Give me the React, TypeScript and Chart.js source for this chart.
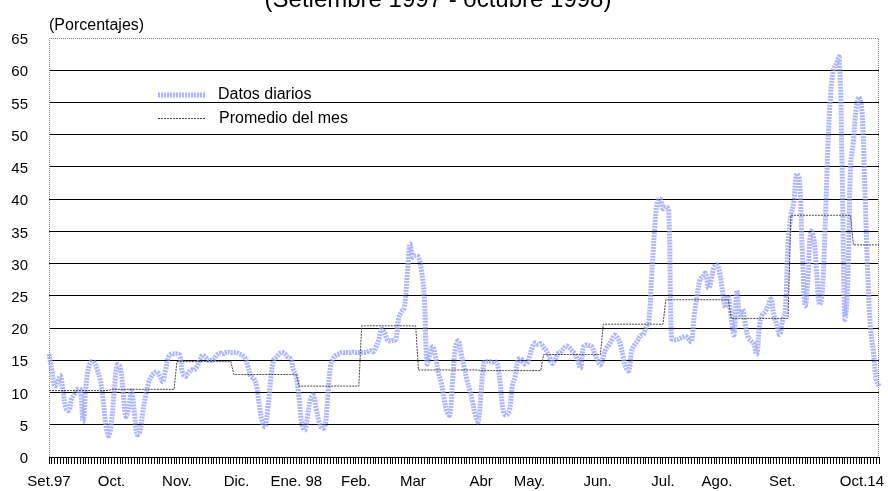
import React, { useEffect, useRef } from 'react';
import { Chart, registerables } from 'chart.js';

Chart.register(...registerables);

// Daily values (percent), business days per month
const sep97 = [16.0, 13.5, 11.0, 11.5, 12.6, 10.0, 7.5, 7.2, 9.0, 9.8, 10.5, 10.5, 5.5, 11.0, 14.0, 14.8, 14.6, 13.5, 12.0, 9.0, 5.0, 3.3];
const oct97 = [5.5, 10.5, 14.3, 14.0, 10.5, 6.3, 7.5, 10.3, 7.0, 3.5, 4.0, 7.0, 9.5, 11.5, 12.5, 13.0, 13.2, 12.5, 11.7, 13.5, 15.5, 16.0, 16.0];
const nov97 = [16.0, 15.8, 13.0, 12.5, 13.0, 13.5, 13.5, 14.0, 15.0, 15.8, 15.5, 15.0, 15.0, 15.2, 15.8, 16.1, 16.0, 16.2, 16.3, 16.2];
const dec97 = [16.2, 16.2, 16.0, 15.8, 15.3, 14.0, 12.5, 12.2, 11.0, 8.0, 5.5, 4.7, 7.5, 12.0, 15.0, 15.5, 16.0, 16.2, 16.0, 15.5, 15.2, 13.5, 12.5];
const jan98 = [9.0, 5.0, 4.2, 6.5, 9.0, 9.6, 7.5, 5.5, 4.5, 4.6, 9.0, 14.0, 15.3, 15.8, 16.0, 16.2, 16.2, 16.2, 16.2, 16.3, 16.2, 16.2];
const feb98 = [16.2, 16.2, 16.3, 16.5, 16.3, 17.0, 18.2, 19.8, 19.3, 18.2, 18.0, 18.1, 18.2, 21.5, 22.5, 23.2, 28.0, 33.0, 31.0, 31.2];
const mar98 = [31.0, 29.0, 25.0, 14.5, 16.0, 17.1, 15.5, 13.0, 11.5, 9.0, 7.0, 6.5, 12.0, 17.0, 18.0, 16.0, 14.0, 12.0, 10.4, 8.5, 6.5, 5.5];
const apr98 = [10.0, 14.5, 14.8, 14.8, 14.7, 14.8, 14.0, 10.0, 6.8, 6.5, 7.3, 11.0, 12.5, 15.0, 15.3, 14.5, 14.5, 15.5, 17.0, 17.7, 17.5, 17.6];
const may98 = [17.0, 16.5, 15.6, 14.5, 15.0, 16.0, 16.3, 16.8, 17.2, 17.0, 16.5, 16.0, 15.0, 13.8, 17.0, 17.4, 17.3, 17.1, 16.0, 15.0, 14.3];
const jun98 = [15.5, 16.8, 17.4, 18.2, 18.9, 18.5, 17.4, 15.5, 13.8, 13.4, 16.5, 17.4, 18.0, 18.8, 19.0, 20.0, 21.0, 28.0, 35.0, 39.5, 40.0, 38.5];
const jul98 = [38.8, 38.3, 18.4, 18.2, 18.2, 18.4, 18.6, 18.7, 18.3, 17.9, 22.0, 25.0, 27.5, 28.0, 28.5, 26.2, 27.5, 29.5, 29.8, 28.5, 25.5, 23.2, 25.0];
const aug98 = [21.6, 19.0, 25.8, 22.1, 22.9, 20.5, 18.5, 18.0, 17.5, 16.0, 20.5, 22.1, 22.6, 23.5, 24.5, 22.0, 20.6, 19.0, 21.0, 22.6, 33.0];
const sep98 = [37.5, 39.5, 43.9, 43.0, 32.0, 23.5, 28.0, 35.0, 34.0, 29.0, 23.7, 25.5, 35.0, 48.0, 56.5, 60.0, 61.0, 62.0, 45.0, 21.6, 27.0, 45.0];
const oct98 = [49.0, 54.2, 55.8, 53.7, 42.0, 29.0, 20.0, 16.5, 12.0, 11.0];

const dailyByMonth = [sep97, oct97, nov97, dec97, jan98, feb98, mar98, apr98, may98, jun98, jul98, aug98, sep98, oct98];

// Monthly averages
const monthlyAvg = [10.3, 10.5, 14.8, 12.8, 11.0, 20.35, 13.5, 13.4, 15.9, 20.6, 24.4, 21.5, 37.5, 32.9];

// X tick labels and the day (index) they are attached to
const xTickLabels = ['Set.97', 'Oct.', 'Nov.', 'Dic.', 'Ene. 98', 'Feb.', 'Mar', 'Abr', 'May.', 'Jun.', 'Jul.', 'Ago.', 'Set.', 'Oct.14'];
const xTickDays = [0, 22, 45, 66, 87, 108, 128, 152, 169, 193, 216, 235, 258, 286];

const yMin = 0;
const yMax = 65;
const yStep = 5;

const titleText = '(Setiembre 1997 - octubre 1998)';
const unitText = '(Porcentajes)';
const seriesNames = ['Datos diarios', 'Promedio del mes'];

const FONT = '"Liberation Sans", Arial, sans-serif';

const daily = dailyByMonth.flat();
const avg = dailyByMonth.flatMap((m, k) => m.map(() => monthlyAvg[k]));
const labels = daily.map((_, i) => String(i));
const labelMap: Record<number, string> = {};
xTickDays.forEach((d, k) => (labelMap[d] = xTickLabels[k]));

const decor = {
  id: 'decor',
  beforeDatasetsDraw(chart: any) {
    const { ctx, chartArea: a } = chart;
    ctx.save();
    ctx.strokeStyle = '#808080';
    ctx.lineWidth = 1;
    ctx.setLineDash([1, 1]);
    ctx.beginPath();
    const l = Math.round(a.left) + 0.5;
    const r = Math.round(a.right) - 0.5;
    const t = Math.round(a.top) + 0.5;
    ctx.moveTo(l, a.bottom);
    ctx.lineTo(l, t);
    ctx.lineTo(r, t);
    ctx.lineTo(r, a.bottom);
    ctx.stroke();
    ctx.restore();
  },
  afterDraw(chart: any) {
    const { ctx } = chart;
    const ds = chart.data.datasets;
    ctx.save();
    ctx.fillStyle = '#000';
    ctx.textBaseline = 'alphabetic';
    ctx.font = `24px ${FONT}`;
    ctx.textAlign = 'center';
    ctx.fillText(titleText, 438, 7);
    ctx.font = `16px ${FONT}`;
    ctx.textAlign = 'left';
    ctx.fillText(unitText, 49, 30);

    // legend
    const rows = [
      { y: 95, x0: 158, x1: 205, tx: 218 },
      { y: 118.5, x0: 158, x1: 205, tx: 219 },
    ];
    rows.forEach((row, k) => {
      const d = ds[k];
      ctx.save();
      ctx.strokeStyle = d.borderColor;
      ctx.lineWidth = d.borderWidth;
      ctx.setLineDash(d.borderDash || []);
      ctx.beginPath();
      ctx.moveTo(row.x0, row.y);
      ctx.lineTo(row.x1, row.y);
      ctx.stroke();
      ctx.restore();
      ctx.font = `16px ${FONT}`;
      ctx.textBaseline = 'middle';
      ctx.fillStyle = '#000';
      ctx.fillText(seriesNames[k], row.tx, row.y);
    });
    ctx.restore();
  },
};

export default function App() {
  const ref = useRef<HTMLCanvasElement>(null);
  useEffect(() => {
    if (!ref.current) return;
    const chart = new Chart(ref.current, {
      type: 'line',
      data: {
        labels,
        datasets: [
          {
            label: seriesNames[0],
            data: daily,
            borderColor: 'rgba(140,150,255,0.7)',
            borderWidth: 5,
            borderDash: [2, 1],
            pointRadius: 0,
            tension: 0.4,
            fill: false,
            order: 1,
          },
          {
            label: seriesNames[1],
            data: avg,
            borderColor: '#444',
            borderWidth: 1,
            borderDash: [2, 1],
            pointRadius: 0,
            tension: 0,
            fill: false,
            order: 0,
          },
        ],
      },
      options: {
        animation: false,
        responsive: false,
        maintainAspectRatio: false,
        devicePixelRatio: 1,
        layout: { padding: { left: 0, right: 8, top: 38, bottom: 0 } },
        plugins: { legend: { display: false }, tooltip: { enabled: false }, title: { display: false } },
        scales: {
          x: {
            type: 'category',
            offset: false,
            afterFit: (s: any) => {
              s.height = 34;
            },
            grid: {
              display: true,
              drawOnChartArea: false,
              drawTicks: true,
              tickLength: 7,
              color: '#000',
              lineWidth: 1,
            },
            border: { display: true, color: '#000' },
            ticks: {
              autoSkip: false,
              maxRotation: 0,
              minRotation: 0,
              padding: 9,
              color: '#000',
              font: { family: FONT, size: 15 },
              callback: (_v: any, i: number) => labelMap[i] ?? '',
            },
          },
          y: {
            min: yMin,
            max: yMax,
            afterFit: (s: any) => {
              s.width = 49;
            },
            grid: {
              drawTicks: false,
              color: (c: any) => (c.tick && c.tick.value === yMax ? 'rgba(0,0,0,0)' : '#000'),
              lineWidth: 1,
            },
            border: { display: false },
            ticks: {
              stepSize: yStep,
              padding: 21,
              labelOffset: 2,
              color: '#000',
              font: { family: FONT, size: 15 },
            },
          },
        },
      },
      plugins: [decor],
    });
    return () => chart.destroy();
  }, []);
  return (
    <div style={{ position: 'fixed', left: 0, top: 0, width: 888, height: 491, background: '#fff' }}>
      <canvas ref={ref} width={888} height={491} style={{ display: 'block' }} />
    </div>
  );
}
